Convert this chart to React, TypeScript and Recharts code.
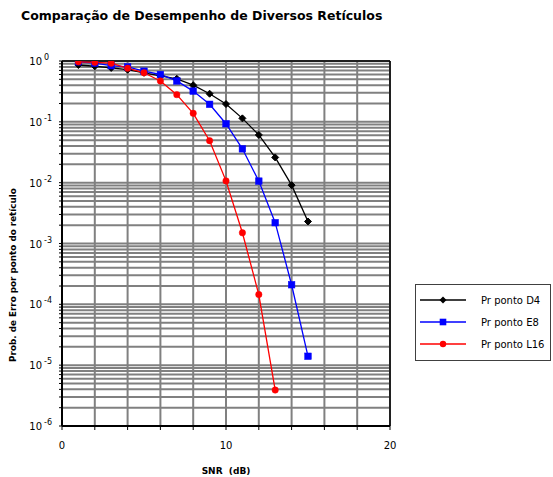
import React from 'react';
import { LineChart, Line, XAxis, YAxis, CartesianGrid, ReferenceLine, Legend } from 'recharts';

const snr = [1, 2, 3, 4, 5, 6, 7, 8, 9, 10, 11, 12, 13, 14, 15];
const d4 = [0.86, 0.82, 0.77, 0.72, 0.64, 0.57, 0.51, 0.4, 0.29, 0.196, 0.114, 0.061, 0.026, 0.0091, 0.0023];
const e8 = [0.97, 0.92, 0.84, 0.8, 0.68, 0.6, 0.47, 0.32, 0.194, 0.093, 0.036, 0.0106, 0.0022, 0.00021, 0.000014];
const l16 = [0.97, 0.95, 0.92, 0.76, 0.64, 0.47, 0.28, 0.138, 0.049, 0.0107, 0.0015, 0.000145, 0.0000039];

const seriesNames = ['Pr ponto D4', 'Pr ponto E8', 'Pr ponto L16'];
const seriesColors = ['#000000', '#0000ff', '#ff0000'];

const xTicks = [0, 2, 4, 6, 8, 10, 12, 14, 16, 18, 20];
const xLabelTicks = [0, 10, 20];
const decades = [1e-6, 1e-5, 1e-4, 1e-3, 1e-2, 1e-1];
const multipliers = [1, 2, 3, 4, 5, 6, 7, 8, 9];
const yTicks = [...decades.flatMap((d) => multipliers.map((m) => m * d)), 1];

const title = 'Comparação de Desempenho de Diversos Retículos';
const xTitle = 'SNR  (dB)';
const yTitle = 'Prob. de Erro por ponto do retículo';

const data = snr.map((s, i) => ({ snr: s, d4: d4[i], e8: e8[i], l16: l16[i] }));

const FONT = '"DejaVu Sans", Verdana, sans-serif';

const YTick = (props: any) => {
  const { x, y, payload } = props;
  const v = payload.value;
  const lg = Math.log10(v);
  const e = Math.round(lg);
  if (Math.abs(lg - e) > 1e-6) return <g />;
  return (
    <g>
      <text x={x - 15} y={y + 4} textAnchor="end" fontSize={10} fontFamily={FONT} fill="#000">10</text>
      <text x={x - 13} y={y - 1} textAnchor="start" fontSize={8} fontFamily={FONT} fill="#000">{String(e)}</text>
    </g>
  );
};

const XTick = (props: any) => {
  const { x, y, payload } = props;
  if (!xLabelTicks.includes(payload.value)) return <g />;
  return (
    <text x={x} y={y + 17} textAnchor="middle" fontSize={10} fontFamily={FONT} fill="#000">
      {payload.value}
    </text>
  );
};

const mkDot = (kind: string, color: string) => (props: any) => {
  const { cx, cy, index } = props;
  const key = `${kind}-${index}`;
  if (cx == null || cy == null) return <g key={key} />;
  if (kind === 'diamond') {
    const s = 3.5;
    return <path key={key} d={`M${cx},${cy - s}L${cx + s},${cy}L${cx},${cy + s}L${cx - s},${cy}Z`} fill={color} stroke={color} />;
  }
  if (kind === 'square') {
    const s = 3.3;
    return <rect key={key} x={cx - s} y={cy - s} width={2 * s} height={2 * s} fill={color} stroke={color} strokeWidth={0.5} />;
  }
  return <circle key={key} cx={cx} cy={cy} r={3.2} fill={color} stroke={color} strokeWidth={0.5} />;
};

const markerKinds = ['diamond', 'square', 'circle'];

const LegendContent = () => (
  <div
    style={{
      width: 136,
      height: 77,
      boxSizing: 'border-box',
      border: '1px solid #404040',
      background: '#fff',
      position: 'relative',
      fontFamily: FONT,
      fontSize: 10,
    }}
  >
    <svg width={136} height={77} style={{ position: 'absolute', left: -1, top: -1 }}>
      {seriesNames.map((n, i) => {
        const y = 16 + i * 22;
        const c = seriesColors[i];
        const cx = 28;
        return (
          <g key={n}>
            <line x1={5} x2={51} y1={y} y2={y} stroke={c} strokeWidth={1.5} />
            {markerKinds[i] === 'diamond' && (
              <path d={`M${cx},${y - 3.5}L${cx + 3.5},${y}L${cx},${y + 3.5}L${cx - 3.5},${y}Z`} fill={c} />
            )}
            {markerKinds[i] === 'square' && <rect x={cx - 3.3} y={y - 3.3} width={6.6} height={6.6} fill={c} />}
            {markerKinds[i] === 'circle' && <circle cx={cx} cy={y} r={3.2} fill={c} />}
            <text x={66} y={y + 4} fontSize={10} fontFamily={FONT} fill="#000">{n}</text>
          </g>
        );
      })}
    </svg>
  </div>
);

export default function App() {
  return (
    <div style={{ position: 'absolute', left: 0, top: 0, width: 553, height: 477, background: '#fff' }}>
      <LineChart width={553} height={477} data={data} margin={{ top: 61, right: 163, bottom: 21, left: 12 }}>
        <CartesianGrid stroke="#808080" strokeWidth={2} />
        <XAxis
          dataKey="snr"
          type="number"
          domain={[0, 20]}
          ticks={xTicks}
          interval={0}
          height={30}
          tick={<XTick />}
          tickSize={4}
          tickLine={{ stroke: '#000' }}
          axisLine={{ stroke: '#000', strokeWidth: 2 }}
        />
        <YAxis
          type="number"
          scale="log"
          domain={[1e-6, 1]}
          allowDataOverflow
          ticks={yTicks}
          interval={0}
          width={50}
          tick={<YTick />}
          tickSize={3}
          tickLine={{ stroke: '#000' }}
          axisLine={{ stroke: '#000', strokeWidth: 2 }}
        />
        <ReferenceLine y={1} stroke="#000" strokeWidth={1.5} />
        <ReferenceLine x={20} stroke="#000" strokeWidth={1.5} />
        <Line dataKey="d4" name={seriesNames[0]} stroke={seriesColors[0]} strokeWidth={1.3} dot={mkDot('diamond', seriesColors[0])} isAnimationActive={false} />
        <Line dataKey="e8" name={seriesNames[1]} stroke={seriesColors[1]} strokeWidth={1.3} dot={mkDot('square', seriesColors[1])} isAnimationActive={false} />
        <Line dataKey="l16" name={seriesNames[2]} stroke={seriesColors[2]} strokeWidth={1.3} dot={mkDot('circle', seriesColors[2])} isAnimationActive={false} />
        <Legend
          layout="horizontal"
          verticalAlign="middle"
          align="center"
          content={<LegendContent />}
          wrapperStyle={{ position: 'absolute', left: 415, top: 284, width: 136, height: 77 }}
        />
      </LineChart>
      <div style={{ position: 'absolute', left: 21, top: 8, fontFamily: FONT, fontSize: 12.5, fontWeight: 'bold', whiteSpace: 'nowrap', color: '#000' }}>
        {title}
      </div>
      <div style={{ position: 'absolute', left: 226, top: 471, transform: 'translate(-50%, -50%)', fontFamily: FONT, fontSize: 9, fontWeight: 'bold', whiteSpace: 'pre', color: '#000' }}>
        {xTitle}
      </div>
      <div style={{ position: 'absolute', left: 13, top: 275, transform: 'translate(-50%, -50%) rotate(-90deg)', fontFamily: FONT, fontSize: 8.8, fontWeight: 'bold', whiteSpace: 'nowrap', color: '#000' }}>
        {yTitle}
      </div>
    </div>
  );
}
